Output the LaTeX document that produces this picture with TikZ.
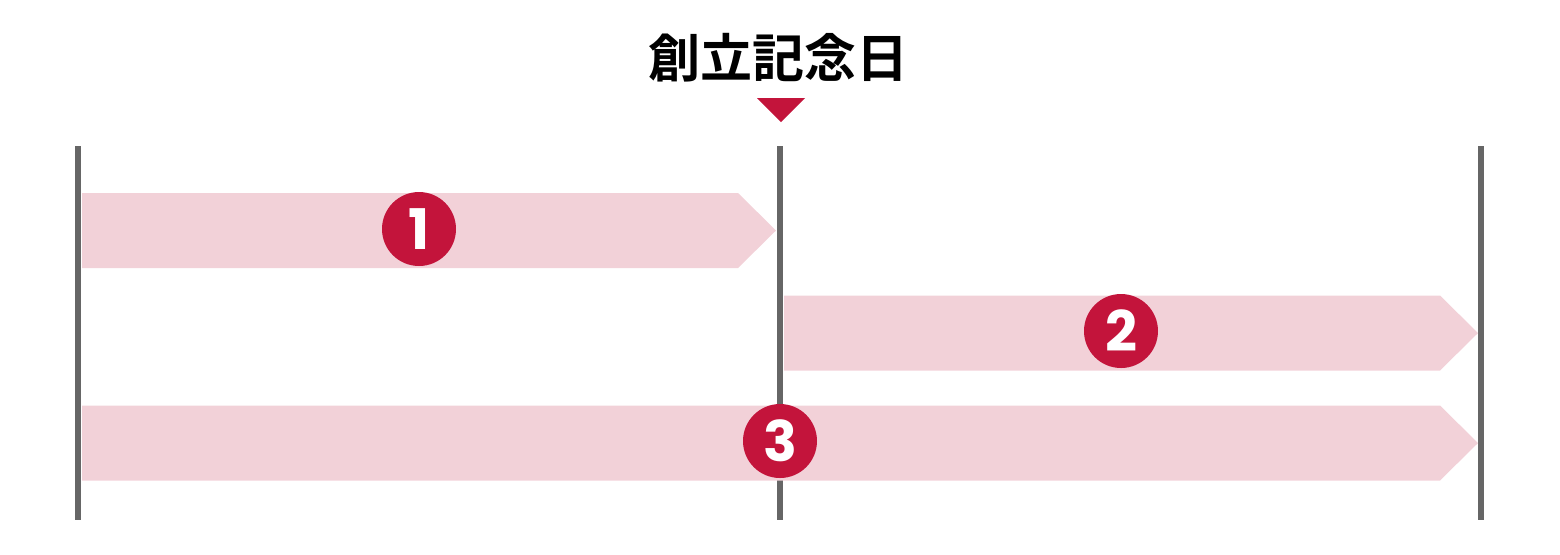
\documentclass[tikz,border=0pt]{standalone}
\usepackage{fontspec}
\newfontfamily\cjkfont{Noto Sans CJK JP}[BoldFont={Noto Sans CJK JP Bold}]
\newfontfamily\numfont{Poppins}
\definecolor{crimson}{HTML}{C3143B}
\definecolor{blush}{HTML}{F2D1D8}
\definecolor{rail}{HTML}{666666}
\begin{document}
\begin{tikzpicture}[x=0.5pt,y=-0.5pt,
    rail/.style={draw=rail,line width=3pt},
    bar/.style={fill=blush},
    pointer/.style={fill=crimson},
    num/.style={circle,fill=crimson,text=white,inner sep=0pt,minimum size=37pt,font=\numfont\bfseries\fontsize{28}{28}\selectfont}]
    \useasboundingbox (0,0) rectangle (1560,554);
    % title and marker
    \node[font=\cjkfont\bfseries\fontsize{26}{27}\selectfont] (title) at (778,57.5) {創立記念日};
    \fill[pointer] (757,98) -- (805,98) -- (781,122) -- cycle;
    % rails
    \draw[rail] (78,146) -- (78,520);
    \draw[rail] (780,146) -- (780,520);
    \draw[rail] (1481,146) -- (1481,520);
    % bars
    \fill[bar] (82,193) -- (738,193) -- (776,230.5) -- (738,268) -- (82,268) -- cycle;
    \fill[bar] (784,295.5) -- (1440,295.5) -- (1478,333) -- (1440,370.5) -- (784,370.5) -- cycle;
    \fill[bar] (82,405.5) -- (1440,405.5) -- (1478,443) -- (1440,480.5) -- (82,480.5) -- cycle;
    % numbers
    \node[num] (one) at (419,229) {1};
    \node[num] (two) at (1121,331) {2};
    \node[num] (three) at (780,441) {3};
\end{tikzpicture}
\end{document}
